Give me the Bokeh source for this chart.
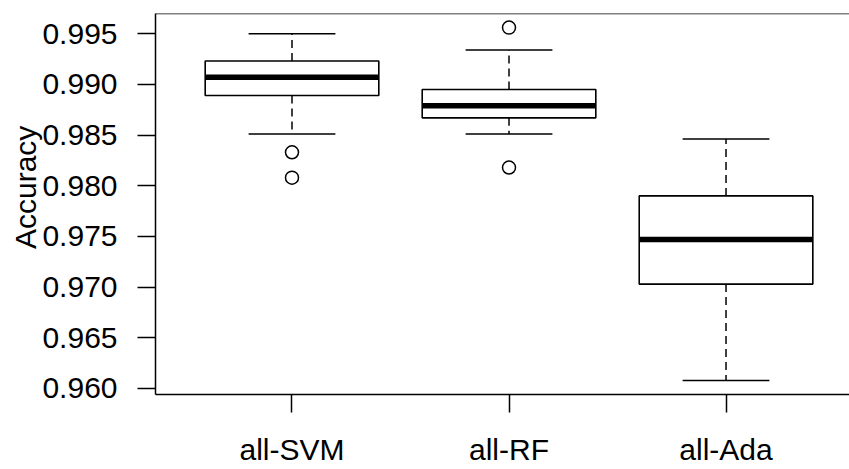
from bokeh.plotting import figure
from bokeh.models import Range1d, FixedTicker, PrintfTickFormatter, Span
from bokeh.embed import file_html
from bokeh.resources import INLINE

# ---- data ----
categories = ["all-SVM", "all-RF", "all-Ada"]
positions = [1, 2, 3]
upper_whisker = [0.9950, 0.9934, 0.9846]
q3 = [0.9923, 0.9895, 0.9790]
median = [0.9907, 0.9879, 0.9747]
q1 = [0.9889, 0.9867, 0.9703]
lower_whisker = [0.9851, 0.9851, 0.9608]
outlier_pos = [1, 1, 2, 2]
outlier_val = [0.9833, 0.9808, 0.9956, 0.9818]
y_ticks = [0.960, 0.965, 0.970, 0.975, 0.980, 0.985, 0.990, 0.995]
y_title = "Accuracy"

# ---- R-like y limits (data range extended by 4%) ----
all_vals = upper_whisker + lower_whisker + outlier_val
lo, hi = min(all_vals), max(all_vals)
ext = (hi - lo) * 0.04
ymin, ymax = lo - ext, hi + ext

BOX_W = 0.8
STAPLE_W = 0.4
FONT = "Liberation Sans"
FS = "30px"

p = figure(width=849, height=469, output_backend="svg", toolbar_location=None,
           x_range=Range1d(0.371, 3.569), y_range=Range1d(ymin, ymax),
           min_border_left=155, min_border_right=0, min_border_top=13,
           min_border_bottom=75)
p.outline_line_color = None
p.background_fill_color = "white"
p.border_fill_color = "white"
p.xgrid.visible = False
p.ygrid.visible = False

left = [x - BOX_W / 2 for x in positions]
right = [x + BOX_W / 2 for x in positions]
s_left = [x - STAPLE_W / 2 for x in positions]
s_right = [x + STAPLE_W / 2 for x in positions]

# whiskers (dashed)
p.segment(x0=positions, y0=q3, x1=positions, y1=upper_whisker,
          line_color="black", line_width=1.5, line_dash="8 5")
p.segment(x0=positions, y0=q1, x1=positions, y1=lower_whisker,
          line_color="black", line_width=1.5, line_dash="8 5")
# staples
p.segment(x0=s_left, y0=upper_whisker, x1=s_right, y1=upper_whisker,
          line_color="black", line_width=1.5)
p.segment(x0=s_left, y0=lower_whisker, x1=s_right, y1=lower_whisker,
          line_color="black", line_width=1.5)
# boxes
p.quad(left=left, right=right, bottom=q1, top=q3,
       fill_color="white", line_color="black", line_width=1.6)
# medians
p.segment(x0=left, y0=median, x1=right, y1=median,
          line_color="black", line_width=5.5, line_cap="butt")
# outliers
p.scatter(x=outlier_pos, y=outlier_val, marker="circle", size=13,
          fill_color=None, line_color="black", line_width=1.5)

# top border line
p.add_layout(Span(location=ymax, dimension="width", line_color="black",
                  line_width=1.5))

# axes
for ax in (p.xaxis[0], p.yaxis[0]):
    ax.axis_line_color = "black"
    ax.axis_line_width = 1.5
    ax.major_tick_line_color = "black"
    ax.major_tick_line_width = 1.5
    ax.major_tick_in = 0
    ax.major_tick_out = 18
    ax.minor_tick_line_color = None
    ax.major_label_text_font = FONT
    ax.major_label_text_font_size = FS
    ax.major_label_text_color = "black"

p.xaxis.ticker = FixedTicker(ticks=positions)
p.xaxis.major_label_overrides = {pos: c for pos, c in zip(positions, categories)}
p.xaxis.major_label_standoff = 20

p.yaxis.ticker = FixedTicker(ticks=y_ticks)
p.yaxis.formatter = PrintfTickFormatter(format="%.3f")
p.yaxis.major_label_standoff = 20
p.yaxis.major_label_orientation = "horizontal"

# y title; leading no-break spaces nudge it upward as in the R original
p.yaxis.axis_label = "\u00a0\u00a0\u00a0\u00a0" + y_title
p.yaxis.axis_label_text_font = FONT
p.yaxis.axis_label_text_font_size = FS
p.yaxis.axis_label_text_font_style = "normal"
p.yaxis.axis_label_text_color = "black"
p.yaxis.axis_label_standoff = -3

open("out.html", "w").write(file_html(p, INLINE))
